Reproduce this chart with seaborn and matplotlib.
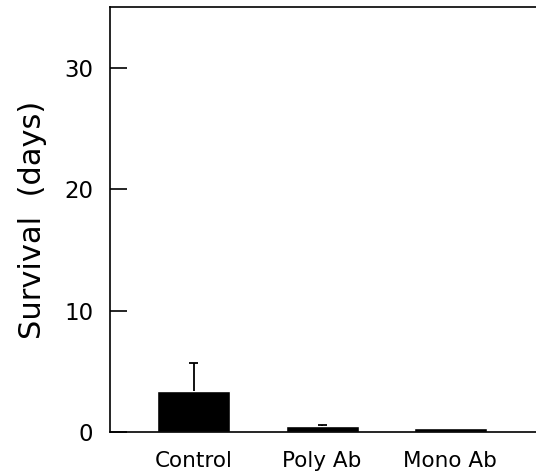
import matplotlib
matplotlib.use("Agg")
import matplotlib.pyplot as plt
import seaborn as sns
import pandas as pd

# Data
groups = ["Control", "Poly Ab", "Mono Ab"]
survival = [3.4, 0.45, 0.3]
errors = [2.3, 0.15, 0.0]

df = pd.DataFrame({"group": groups, "survival": survival})

sns.set_style("ticks")
plt.rcParams['font.family'] = ['DejaVu Sans']
plt.rcParams['text.color'] = 'black'
plt.rcParams['axes.labelcolor'] = 'black'
plt.rcParams['xtick.color'] = 'black'
plt.rcParams['ytick.color'] = 'black'

fig = plt.figure(figsize=(5.36, 4.71), dpi=100)
ax = fig.add_axes([0.205, 0.083, 0.795, 0.902])

sns.barplot(data=df, x="group", y="survival", color="black", width=0.57,
            saturation=1, ax=ax)

# upper-only error bars with a small cap on top
for i, (m, e) in enumerate(zip(survival, errors)):
    if e > 0:
        ax.vlines(i, m, m + e, color="black", lw=1.3)
        ax.hlines(m + e, i - 0.035, i + 0.035, color="black", lw=1.3)

ax.set_xlim(-0.656, 2.67)
ax.set_ylim(0, 35)
ax.set_yticks([0, 10, 20, 30])
ax.tick_params(axis="y", direction="in", length=12, width=1.2, labelsize=16.5, pad=12)
ax.tick_params(axis="x", length=0, labelsize=15.5, pad=14)
ax.set_xlabel("")
ax.set_ylabel("Survival  (days)", fontsize=22, labelpad=12)
for s in ["left", "bottom", "top"]:
    ax.spines[s].set_linewidth(1.2)
    ax.spines[s].set_color("black")
ax.spines["right"].set_visible(False)

fig.savefig("out.png", dpi=100)
